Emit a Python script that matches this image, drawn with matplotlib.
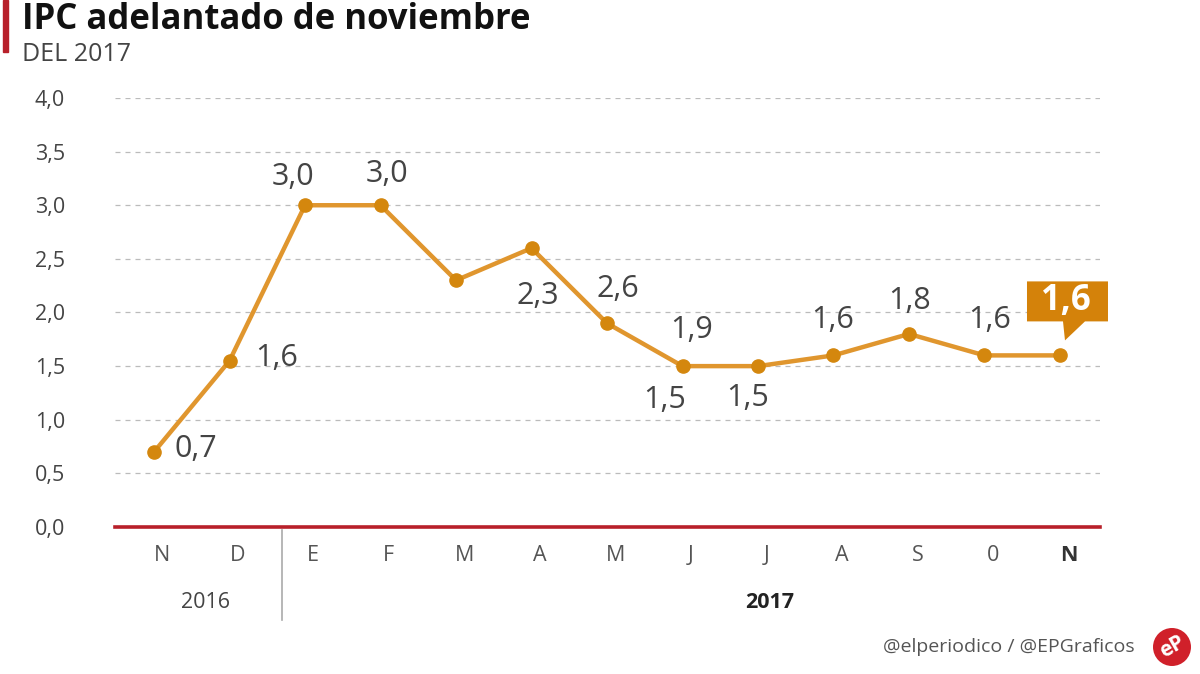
import numpy as np
import matplotlib
matplotlib.use('Agg')
import matplotlib.pyplot as plt
import matplotlib.transforms as mtransforms
from matplotlib.patches import Polygon, Circle

plt.rcParams['font.family'] = ['Open Sans', 'DejaVu Sans']

# datos
months = ['N', 'D', 'E', 'F', 'M', 'A', 'M', 'J', 'J', 'A', 'S', '0', 'N']
ipc = [0.7, 1.55, 3.0, 3.0, 2.3, 2.6, 1.9, 1.5, 1.5, 1.6, 1.8, 1.6, 1.6]
labels = ['0,7', '1,6', '3,0', '3,0', '2,3', '2,6', '1,9', '1,5', '1,5', '1,6', '1,8', '1,6', '1,6']
yticks = [0, 0.5, 1.0, 1.5, 2.0, 2.5, 3.0, 3.5, 4.0]
ytick_labels = ['0,0', '0,5', '1,0', '1,5', '2,0', '2,5', '3,0', '3,5', '4,0']

# desplazamiento de cada etiqueta respecto a su punto (px)
label_offsets = [(42, 3), (47, 3), (-12, 28), (6, 31), (82, -16), (86, -41),
                 (85, -7), (-18, -34), (-10, -32), (-1, 35), (1, 33), (5, 35)]

line_color = '#E0962E'
dot_color = '#D4870E'
box_color = '#D4820A'
text_color = '#444444'

fig = plt.figure(figsize=(12, 6.74), dpi=100)
ax = fig.add_axes([115/1200, 147/674, 985/1200, 429/674])

x = np.arange(len(months))
ax.plot(x, ipc, color=line_color, lw=3.2, zorder=3, solid_joinstyle='round')
ax.plot(x, ipc, 'o', color=dot_color, ms=9.5, zorder=4, clip_on=False)

ax.set_xlim(-0.517, 12.53)
ax.set_ylim(0, 4)
for s in ax.spines.values():
    s.set_visible(False)
for yv in yticks[1:]:
    ax.axhline(yv, color='#bbbbbb', lw=0.9, ls=(0, (4, 4)), zorder=1)
ax.axhline(0, color='#B8202A', lw=2.6, zorder=2, clip_on=False)

ax.set_yticks(yticks)
ax.set_yticklabels(ytick_labels, fontsize=15.5, color=text_color)
ax.tick_params(axis='y', length=0, pad=36)
ax.set_xticks(x)
ax.set_xticklabels(months, fontsize=15.5, color='#555555')
ax.tick_params(axis='x', length=0, pad=13)
ax.get_xticklabels()[-1].set_fontweight('bold')
ax.get_xticklabels()[-1].set_color('#333333')
shift = mtransforms.ScaledTranslation(6/72, 0, fig.dpi_scale_trans)
for t in ax.get_xticklabels():
    t.set_transform(t.get_transform() + shift)

# etiquetas de valores
for i, (lab, off) in enumerate(zip(labels[:-1], label_offsets)):
    ax.annotate(lab, (x[i], ipc[i]), xytext=(off[0]*0.72, off[1]*0.72),
                textcoords='offset points', ha='center', va='center',
                fontsize=22, color=text_color)

# recuadro del ultimo dato
fig.canvas.draw()
px, py = ax.transData.transform((x[-1], ipc[-1]))
verts = [(-33, 34), (3, 34), (5, 15), (25, 34), (48, 34), (48, 74), (-33, 74)]
poly = Polygon([(px + a, py + b) for a, b in verts], closed=True,
               transform=mtransforms.IdentityTransform(),
               facecolor=box_color, edgecolor='none', zorder=5, clip_on=False)
ax.add_artist(poly)
ax.annotate(labels[-1], (x[-1], ipc[-1]), xytext=(6*0.72, 54*0.72),
            textcoords='offset points', ha='center', va='center',
            fontsize=25, fontweight='bold', color='white', zorder=6)

# años
trans = mtransforms.blended_transform_factory(ax.transData, ax.transAxes)
ax.text(0.68, -0.176, '2016', transform=trans, ha='center', va='center',
        fontsize=15.5, color=text_color)
ax.text(8.16, -0.176, '2017', transform=trans, ha='center', va='center',
        fontsize=15.5, fontweight='bold', color='#222222')
ax.plot([1.7, 1.7], [-0.007, -0.217], transform=trans, color='#aaaaaa',
        lw=1.2, clip_on=False)

# titulo
fig.text(22/1200, 1 - 29/674, 'IPC adelantado de noviembre', fontsize=25,
         fontweight='bold', color='#111111', ha='left', va='baseline')
fig.text(22/1200, 1 - 61/674, 'DEL 2017', fontsize=18, color=text_color,
         ha='left', va='baseline')
fig.patches.append(plt.Rectangle((3/1200, 1 - 52/674), 5/1200, 52/674,
                                 transform=fig.transFigure, color='#B8202A'))

# pie
fig.text(1135/1200, 1 - 647/674, '@elperiodico / @EPGraficos', fontsize=14,
         color='#555555', ha='right', va='center')
fig.patches.append(Circle((1172, 674 - 647), 19, transform=None,
                          facecolor='#D0202A', edgecolor='none'))
fig.text(1172/1200, 1 - 647/674, 'eP', fontsize=15, fontweight='bold',
         color='white', ha='center', va='center', rotation=30)

fig.savefig('out.png', dpi=100)
